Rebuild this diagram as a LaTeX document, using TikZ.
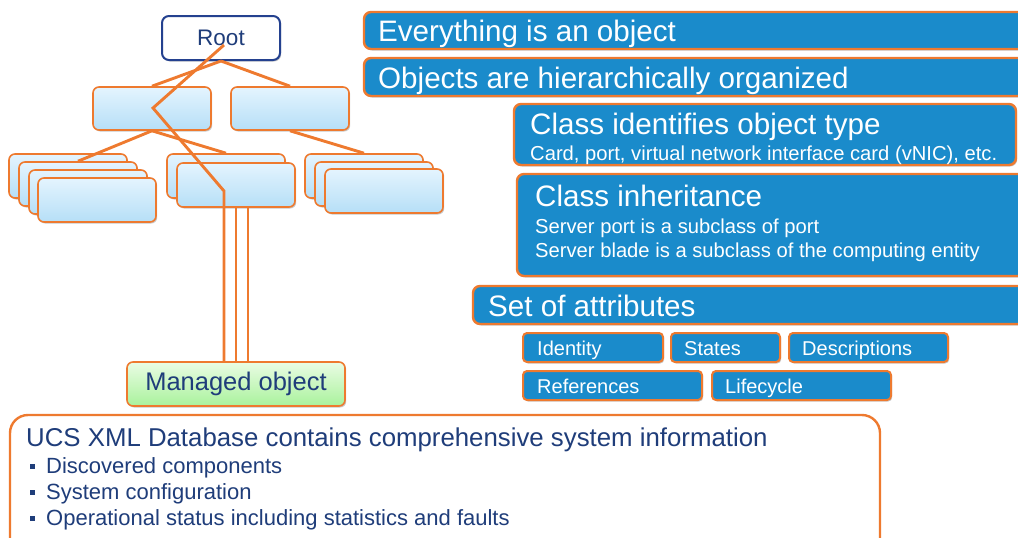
\documentclass[tikz,border=0pt]{standalone}
\usepackage{fontspec}
\setmainfont{Liberation Sans}
\usetikzlibrary{shadows}
\definecolor{orng}{HTML}{EE7A2F}
\definecolor{bluef}{HTML}{1A8BCB}
\definecolor{navy}{HTML}{1F3D7A}
\definecolor{rootb}{HTML}{24418F}
\definecolor{lbtop}{HTML}{E4F4FE}
\definecolor{lbbot}{HTML}{B6DFF7}
\definecolor{gtop}{HTML}{EAFCE4}
\definecolor{gbot}{HTML}{A9F29C}
\begin{document}
\begin{tikzpicture}[x=1pt,y=-1pt,
  shad/.style={drop shadow={shadow xshift=1.2pt,shadow yshift=-1.5pt,opacity=0.22,fill=black}},
  treebox/.style={draw=orng,line width=1.6pt,rounded corners=6pt,top color=lbtop,bottom color=lbbot,minimum width=118pt,minimum height=44pt,inner sep=0pt,shad},
  bluebox/.style={draw=orng,line width=2.4pt,rounded corners=7pt,fill=bluef,inner sep=0pt,shad},
  tagbox/.style={bluebox,line width=2pt,rounded corners=4pt,minimum height=29pt},
  wtxt/.style={text=white,anchor=base west,inner sep=0pt},
  ntxt/.style={text=navy,anchor=base west,inner sep=0pt},
  link/.style={draw=orng,line width=2.9pt},
  bigf/.style={font=\fontsize{29.6}{31}\selectfont},
  subf/.style={font=\fontsize{20.2}{22}\selectfont},
  tagf/.style={font=\fontsize{20}{22}\selectfont},
  bulf/.style={font=\fontsize{22}{24}\selectfont},
]
\useasboundingbox (0,0) rectangle (1018,538);
\clip (0,0) rectangle (1018,538);

% tree
\node[draw=rootb,line width=2pt,rounded corners=7pt,fill=white,minimum width=118pt,minimum height=44pt,inner sep=0pt,text=navy,font=\fontsize{22.5}{24}\selectfont,shad] (root) at (221,38) {Root};
\node[treebox,minimum height=43pt] (l1a) at (152,108.5) {};
\node[treebox,minimum height=43pt] (l1b) at (290,108.5) {};
\node[treebox] (ls1) at (68,176) {};
\node[treebox] (ls2) at (78,184) {};
\node[treebox] (ls3) at (88,192) {};
\node[treebox] (ls4) at (97,200) {};
\node[treebox] (ms1) at (226,176) {};
\node[treebox] (ms2) at (236,185) {};
\node[treebox] (rs1) at (364,176) {};
\node[treebox] (rs2) at (374,184) {};
\node[treebox] (rs3) at (384,191) {};
\node[draw=orng,line width=1.6pt,rounded corners=6pt,top color=gtop,bottom color=gbot,minimum width=218pt,minimum height=44pt,inner sep=0pt,text=navy,font=\fontsize{25.5}{27}\selectfont,shad] (mo) at (236,384) {\raisebox{3pt}{Managed object}};

% connectors
\draw[link] (root.south) -- (l1a.north);
\draw[link] (root.south) -- (l1b.north);
\draw[link] (l1a.south) -- (ls2.north);
\draw[link] (l1a.south) -- (ms1.north);
\draw[link] (l1b.south) -- (rs1.north);
\coordinate (z0) at (224,45);
\coordinate (z1) at (153,108);
\coordinate (z2) at (224,191);
\draw[link] (z0) -- (z1) -- (z2) -- (z2 |- mo.north);
\draw[link] (ms2.south) -- (mo.north);
\draw[link] ([xshift=12pt]ms2.south) -- ([xshift=12pt]mo.north);

% right side
\node[bluebox,minimum width=666pt,minimum height=37pt] (b1) at (697,30.5) {};
\node[wtxt,bigf] (t1) at (378,41) {Everything is an object};
\node[bluebox,minimum width=666pt,minimum height=38pt] (b2) at (697,77) {};
\node[wtxt,bigf] (t2) at (378,88) {Objects are hierarchically organized};
\node[bluebox,minimum width=502pt,minimum height=61pt] (b3) at (765,134.5) {};
\node[wtxt,bigf] (t3) at (530,134) {Class identifies object type};
\node[wtxt,subf] (t3a) at (530,160) {Card, port, virtual network interface card (vNIC), etc.};
\node[bluebox,minimum width=513pt,minimum height=102pt] (b4) at (773.5,225) {};
\node[wtxt,bigf] (t4) at (535,206) {Class inheritance};
\node[wtxt,subf] (t4a) at (535,233) {Server port is a subclass of port};
\node[wtxt,subf] (t4b) at (535,257) {Server blade is a subclass of the computing entity};
\node[bluebox,minimum width=557pt,minimum height=38pt] (b5) at (751.5,305) {};
\node[wtxt,bigf] (t5) at (488,316) {Set of attributes};

\node[tagbox,minimum width=140pt] (g1) at (593,347.5) {};
\node[wtxt,tagf] at (537,355) {Identity};
\node[tagbox,minimum width=109pt] (g2) at (725.5,347.5) {};
\node[wtxt,tagf] at (684,355) {States};
\node[tagbox,minimum width=159pt] (g3) at (868.5,347.5) {};
\node[wtxt,tagf] at (802,355) {Descriptions};
\node[tagbox,minimum width=179pt] (g4) at (612.5,385.5) {};
\node[wtxt,tagf] at (537,393) {References};
\node[tagbox,minimum width=179pt] (g5) at (801.5,385.5) {};
\node[wtxt,tagf] at (725,393) {Lifecycle};

% bottom box
\node[draw=orng,line width=2.4pt,rounded corners=18pt,fill=white,minimum width=870pt,minimum height=145pt,inner sep=0pt] (db) at (445,487.5) {};
\node[ntxt,font=\fontsize{25.8}{27}\selectfont] (dt) at (26,446) {UCS XML Database contains comprehensive system information};
\node[fill=navy,minimum size=5pt,inner sep=0pt] (bu1) at (32,466) {};
\node[ntxt,bulf] (d1) at (46,473) {Discovered components};
\node[fill=navy,minimum size=5pt,inner sep=0pt] (bu2) at (32,492) {};
\node[ntxt,bulf] (d2) at (46,499) {System configuration};
\node[fill=navy,minimum size=5pt,inner sep=0pt] (bu3) at (32,518) {};
\node[ntxt,bulf] (d3) at (46,525) {Operational status including statistics and faults};
\end{tikzpicture}
\end{document}
